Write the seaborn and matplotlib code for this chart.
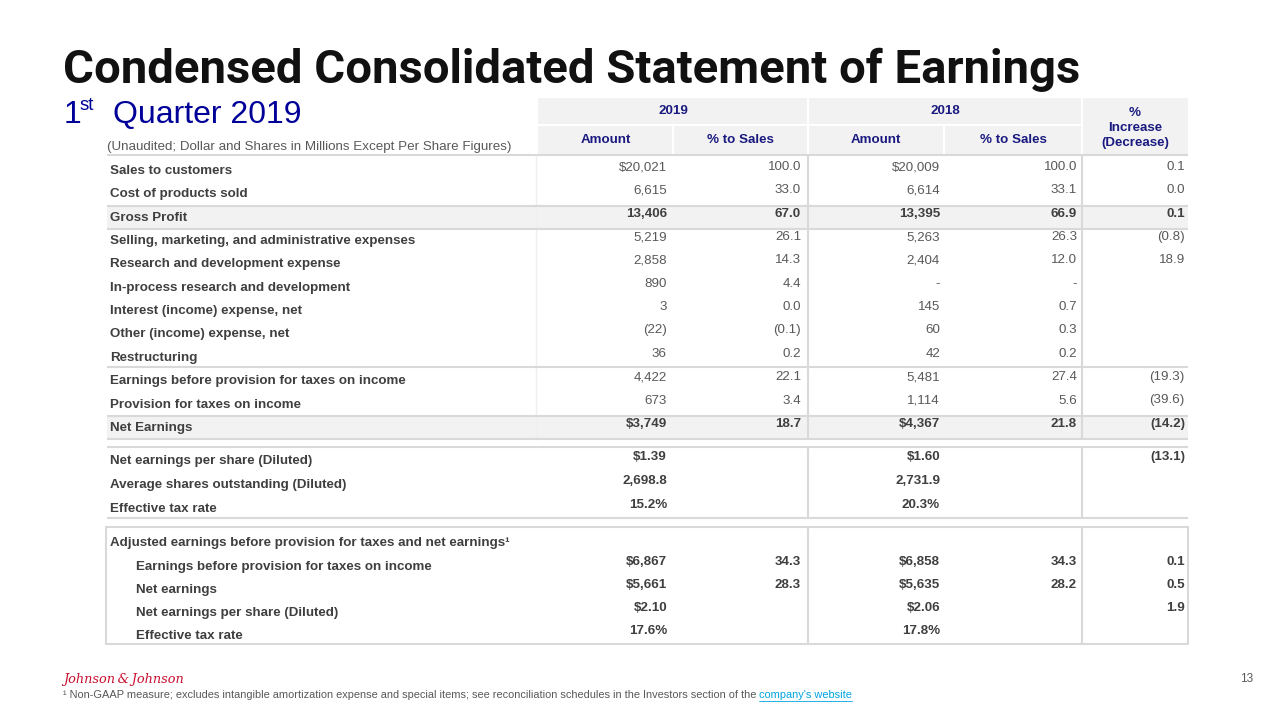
import matplotlib
matplotlib.use("Agg")
import matplotlib.pyplot as plt
import seaborn as sns
from matplotlib.patches import Rectangle

sns.set_theme(style="white")
plt.rcParams['font.family'] = ['Liberation Sans', 'DejaVu Sans']

# ---------------- data ----------------
title = "Condensed Consolidated Statement of Earnings"
subtitle_note = "(Unaudited; Dollar and Shares in Millions Except Per Share Figures)"
years = ["2019", "2018"]
sub_headers = ["Amount", "% to Sales", "Amount", "% to Sales"]
change_header = "%\nIncrease\n(Decrease)"

main_labels = ["Sales to customers", "Cost of products sold", "Gross Profit",
               "Selling, marketing, and administrative expenses",
               "Research and development expense",
               "In-process research and development",
               "Interest (income) expense, net", "Other (income) expense, net",
               "Restructuring", "Earnings before provision for taxes on income",
               "Provision for taxes on income", "Net Earnings"]
main_amt_2019 = ["$20,021", "6,615", "13,406", "5,219", "2,858", "890", "3", "(22)",
                 "36", "4,422", "673", "$3,749"]
main_pct_2019 = ["100.0", "33.0", "67.0", "26.1", "14.3", "4.4", "0.0", "(0.1)",
                 "0.2", "22.1", "3.4", "18.7"]
main_amt_2018 = ["$20,009", "6,614", "13,395", "5,263", "2,404", "-", "145", "60",
                 "42", "5,481", "1,114", "$4,367"]
main_pct_2018 = ["100.0", "33.1", "66.9", "26.3", "12.0", "-", "0.7", "0.3",
                 "0.2", "27.4", "5.6", "21.8"]
main_change = ["0.1", "0.0", "0.1", "(0.8)", "18.9", "", "", "", "", "(19.3)",
               "(39.6)", "(14.2)"]
main_bold = [False, False, True, False, False, False, False, False, False, False,
             False, True]

eps_labels = ["Net earnings per share (Diluted)", "Average shares outstanding (Diluted)",
              "Effective tax rate"]
eps_2019 = ["$1.39", "2,698.8", "15.2%"]
eps_2018 = ["$1.60", "2,731.9", "20.3%"]
eps_change = ["(13.1)", "", ""]

adj_header = "Adjusted earnings before provision for taxes and net earnings\u00b9"
adj_labels = ["Earnings before provision for taxes on income", "Net earnings",
              "Net earnings per share (Diluted)", "Effective tax rate"]
adj_amt_2019 = ["$6,867", "$5,661", "$2.10", "17.6%"]
adj_pct_2019 = ["34.3", "28.3", "", ""]
adj_amt_2018 = ["$6,858", "$5,635", "$2.06", "17.8%"]
adj_pct_2018 = ["34.3", "28.2", "", ""]
adj_change = ["0.1", "0.5", "1.9", ""]

footnote = "\u00b9 Non-GAAP measure; excludes intangible amortization expense and special items; see reconciliation schedules in the Investors section of the "
footnote_link = "company's website"
page_no = "13"

# ---------------- layout ----------------
NAVY = "#1a1a80"
LABEL = "#3f3f3f"
VAL = "#595959"
LINE = "#d9d9d9"
SHADE = "#f2f2f2"

fig = plt.figure(figsize=(12.8, 7.2), dpi=100)
ax = fig.add_axes([0, 0, 1, 1])
ax.set_xlim(0, 1280)
ax.set_ylim(720, 0)
ax.axis("off")

x_left, x_right = 107, 1188
col_edges = [538, 673, 808, 944, 1082, 1188]
col_right = [667, 801, 940, 1077, 1185]
FS = 9.6

def hline(y, x0=x_left, x1=x_right, c=LINE, lw=1.5):
    ax.plot([x0, x1], [y, y], color=c, lw=lw, solid_capstyle="butt", zorder=2)

def vline(x, y0, y1, c=LINE, lw=1.5):
    ax.plot([x, x], [y0, y1], color=c, lw=lw, solid_capstyle="butt", zorder=2)

# title
ax.text(63, 70, title, fontsize=34, fontweight="bold", color="#111111",
        family=["Roboto", "Liberation Sans"], va="center", ha="left")
ax.text(64, 115, "1", fontsize=23, color="#000099", va="center", ha="left")
ax.text(80, 106, "st", fontsize=13.5, color="#000099", va="center", ha="left")
ax.text(113, 115, "Quarter 2019", fontsize=23, color="#000099", va="center", ha="left")
ax.text(107, 147, subtitle_note, fontsize=9.6, color=VAL, va="center", ha="left")

# header band
ax.add_patch(Rectangle((col_edges[0], 98), col_edges[-1] - col_edges[0], 57,
                       facecolor=SHADE, edgecolor="none", zorder=1))
ax.plot([col_edges[0], col_edges[4]], [125, 125], color="white", lw=1.5, zorder=2)
for x in [col_edges[2], col_edges[4]]:
    vline(x, 98, 155, c="white")
for x in [col_edges[1], col_edges[3]]:
    vline(x, 125, 155, c="white")
for i, yr in enumerate(years):
    cx = (col_edges[2 * i] + col_edges[2 * i + 2]) / 2
    ax.text(cx, 111, yr, fontsize=FS, fontweight="bold", color=NAVY, ha="center", va="center")
for i, h in enumerate(sub_headers):
    cx = (col_edges[i] + col_edges[i + 1]) / 2
    ax.text(cx, 140, h, fontsize=FS, fontweight="bold", color=NAVY, ha="center", va="center")
ax.text((col_edges[4] + col_edges[5]) / 2, 128, change_header, fontsize=FS,
        fontweight="bold", color=NAVY, ha="center", va="center", linespacing=1.35)

# main section
row_y = [171 + 23.35 * i for i in range(len(main_labels))]
hline(155)
vline(col_edges[0] - 2, 155, 440, c="#efefef", lw=1.0)
for i, lab in enumerate(main_labels):
    y = row_y[i]
    if main_bold[i]:
        ax.add_patch(Rectangle((x_left, y - 12), x_right - x_left, 23,
                               facecolor=SHADE, edgecolor="none", zorder=1.5))
        hline(y - 12)
        hline(y + 11)
    ax.text(110, y, lab, fontsize=FS, fontweight="bold", color=LABEL, ha="left",
            va="center", zorder=3)
    vals = [main_amt_2019[i], main_pct_2019[i], main_amt_2018[i], main_pct_2018[i], main_change[i]]
    for j, v in enumerate(vals):
        ax.text(col_right[j], y - 4, v, fontsize=FS,
                fontweight="bold" if main_bold[i] else "normal",
                color=LABEL if main_bold[i] else VAL, ha="right", va="center", zorder=3)
hline((row_y[8] + row_y[9]) / 2 - 2)
for x in [col_edges[2], col_edges[4]]:
    vline(x, 155, 440)

# EPS section
eps_y = [461, 485, 509]
hline(447)
hline(518)
for x in [col_edges[2], col_edges[4]]:
    vline(x, 447, 518)
for i, lab in enumerate(eps_labels):
    y = eps_y[i]
    ax.text(110, y, lab, fontsize=FS, fontweight="bold", color=LABEL, ha="left", va="center")
    for j, v in zip([0, 2, 4], [eps_2019[i], eps_2018[i], eps_change[i]]):
        ax.text(col_right[j], y - 4, v, fontsize=FS, fontweight="bold",
                color=LABEL, ha="right", va="center")

# Adjusted section
ax.add_patch(Rectangle((x_left - 1, 527), x_right - x_left + 1, 117, facecolor="none",
                       edgecolor=LINE, lw=1.5, zorder=2))
for x in [col_edges[2], col_edges[4]]:
    vline(x, 527, 644)
ax.text(110, 543, adj_header, fontsize=FS, fontweight="bold", color=LABEL, ha="left", va="center")
adj_y = [567, 590, 613, 636]
for i, lab in enumerate(adj_labels):
    y = adj_y[i]
    ax.text(136, y, lab, fontsize=FS, fontweight="bold", color=LABEL, ha="left", va="center")
    vals = [adj_amt_2019[i], adj_pct_2019[i], adj_amt_2018[i], adj_pct_2018[i], adj_change[i]]
    for j, v in enumerate(vals):
        ax.text(col_right[j], y - 5, v, fontsize=FS, fontweight="bold",
                color=LABEL, ha="right", va="center")

# footer
ax.text(63, 679, "Johnson\u2009&\u2009Johnson", fontsize=9.3, style="italic",
        family=["DejaVu Serif"], color="#c8102e", ha="left", va="center")
ft = ax.text(63, 695, footnote, fontsize=7.9, color=VAL, ha="left", va="center")
fig.canvas.draw()
renderer = fig.canvas.get_renderer()
bb = ft.get_window_extent(renderer=renderer)
lk_txt = ax.text(bb.x1, 695, footnote_link, fontsize=7.9, color="#00a3e0", ha="left", va="center")
lk = lk_txt.get_window_extent(renderer=renderer)
ax.plot([lk.x0, lk.x1], [701, 701], color="#00a3e0", lw=0.6)
ax.text(1253, 679, page_no, fontsize=8.5, color=VAL, ha="right", va="center")

fig.savefig("out.png", dpi=100, facecolor="white")
